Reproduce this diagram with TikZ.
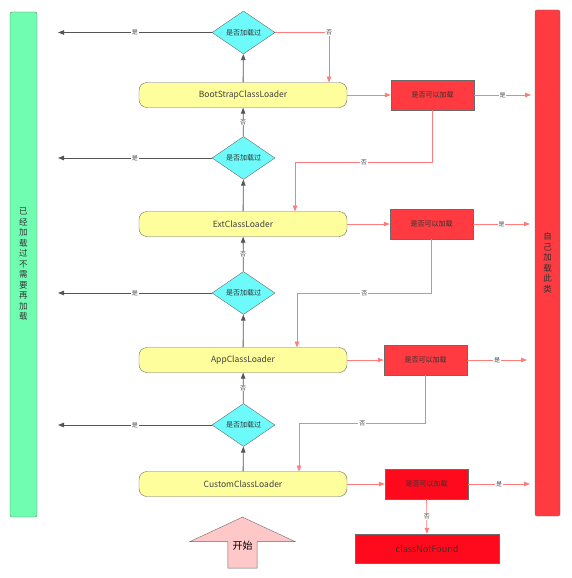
\documentclass[tikz,border=0pt]{standalone}
\usepackage{fontspec}
\usepackage{tikz}
\usetikzlibrary{arrows.meta,positioning,shapes.geometric,shapes.arrows}
\setmainfont{Noto Sans CJK SC}
\definecolor{doneGreen}{HTML}{70FDB2}
\definecolor{selfRed}{HTML}{FF3A40}
\definecolor{loaderYellow}{HTML}{FFFE9C}
\definecolor{askCyan}{HTML}{6CFAFA}
\definecolor{failRed}{HTML}{FF0A1C}
\definecolor{startPink}{HTML}{FFC8C8}
\definecolor{lineGray}{HTML}{555555}
\definecolor{lineRed}{HTML}{FF7C7C}
\definecolor{edgeGray}{HTML}{6B6B6B}

\begin{document}
\begin{tikzpicture}[
  x=1pt, y=-1pt,
  loader/.style={rectangle, rounded corners=8pt, draw=edgeGray, fill=loaderYellow, minimum width=208pt, minimum height=25pt, font=\fontsize{8.5}{10}\selectfont, text=black!75},
  ask/.style={diamond, aspect=1.5, draw=edgeGray, fill=askCyan, minimum width=63pt, minimum height=43pt, inner sep=0pt, font=\fontsize{7}{8}\selectfont, text=black!80},
  canload/.style={rectangle, draw=edgeGray, fill=selfRed, minimum width=83pt, minimum height=30pt, font=\fontsize{7}{8}\selectfont, text=black!80},
  bar/.style={rectangle, rounded corners=2pt, draw=edgeGray, align=center, font=\fontsize{8.5}{10.5}\selectfont, text=black!80},
  garrow/.style={-{Triangle[length=6pt,width=4.5pt]}, draw=lineGray, line width=0.8pt},
  rarrow/.style={-{Triangle[length=6pt,width=4.5pt]}, draw=lineRed, line width=0.8pt},
  lbl/.style={fill=white, inner sep=0.8pt, font=\fontsize{6}{7}\selectfont, text=black!70}
]
\useasboundingbox (0,0) rectangle (571,578);

% side bars
\node[bar, fill=doneGreen, minimum width=27pt, minimum height=505pt] (done) at (23.5,264.5) {已\\经\\加\\载\\过\\不\\需\\要\\再\\加\\载};
\node[bar, fill=selfRed, minimum width=25pt, minimum height=506pt] (self) at (547.5,263) {自\\己\\加\\载\\此\\类};

% loaders
\node[loader] (bs) at (243,95) {BootStrapClassLoader};
\node[loader] (ext) at (243,224) {ExtClassLoader};
\node[loader] (app) at (243,360) {AppClassLoader};
\node[loader] (cl) at (243,484) {CustomClassLoader};

% already loaded?
\node[ask] (q1) at (243.5,32.5) {是否加载过};
\node[ask] (q2) at (243.5,158) {是否加载过};
\node[ask] (q3) at (243.5,293) {是否加载过};
\node[ask] (q4) at (243.5,425) {是否加载过};

% can load?
\node[canload] (ok1) at (432.5,95) {是否可以加载};
\node[canload] (ok2) at (431.5,224) {是否可以加载};
\node[canload] (ok3) at (425.5,360) {是否可以加载};
\node[canload, fill=failRed] (ok4) at (426.5,484) {是否可以加载};
\node[rectangle, draw=edgeGray, fill=failRed, minimum width=144pt, minimum height=29pt, font=\fontsize{9}{10}\selectfont, text=black!80] (nf) at (427,548.5) {classNotFound};

\node[single arrow, shape border rotate=90, draw=edgeGray, fill=startPink, minimum height=51pt, minimum width=105pt, single arrow head extend=35pt, single arrow tip angle=130, font=\fontsize{10}{11}\selectfont] (start) at (242.5,546) {开始};

% free ends
\coordinate (done1) at (58,32.5);
\coordinate (done2) at (58,158);
\coordinate (done3) at (58,293);
\coordinate (done4) at (58,425);
\coordinate (self1) at (531,95);
\coordinate (self2) at (530,224);
\coordinate (self3) at (527,360);
\coordinate (self4) at (530,484);
\coordinate (in1) at (329,82.5);
\coordinate (in2) at (295,211.5);
\coordinate (in3) at (297,347.5);
\coordinate (in4) at (299,471.5);

% delegate upwards
\draw[garrow] (cl) -- (q4);
\draw[garrow] (q4) -- node[lbl] {否} (app);
\draw[garrow] (app) -- (q3);
\draw[garrow] (q3) -- node[lbl] {否} (ext);
\draw[garrow] (ext) -- (q2);
\draw[garrow] (q2) -- node[lbl] {否} (bs);
\draw[garrow] (bs) -- (q1);

\draw[garrow] (q1) -- node[lbl] {是} (done1);
\draw[garrow] (q2) -- node[lbl] {是} (done2);
\draw[garrow] (q3) -- node[lbl] {是} (done3);
\draw[garrow] (q4) -- node[lbl] {是} (done4);

% try to load downwards
\draw[rarrow] (q1.east) -| node[lbl] {否} (in1);
\draw[rarrow] (bs) -- (ok1);
\draw[rarrow] (ext) -- (ok2);
\draw[rarrow] (app) -- (ok3);
\draw[rarrow] (cl) -- (ok4);
\draw[rarrow] (ok1) -- node[lbl] {是} (self1);
\draw[rarrow] (ok2) -- node[lbl] {是} (self2);
\draw[rarrow] (ok3) -- node[lbl] {是} (self3);
\draw[rarrow] (ok4) -- node[lbl] {是} (self4);
\draw[rarrow] (ok1.south) -- ++(0,52) -| node[lbl, pos=0.25] {否} (in2);
\draw[rarrow] (ok2.south) -- ++(0,54) -| node[lbl, pos=0.25] {否} (in3);
\draw[rarrow] (ok3.south) -- ++(0,48) -| node[lbl, pos=0.25] {否} (in4);
\draw[rarrow] (ok4) -- node[lbl] {否} (nf);
\end{tikzpicture}
\end{document}
